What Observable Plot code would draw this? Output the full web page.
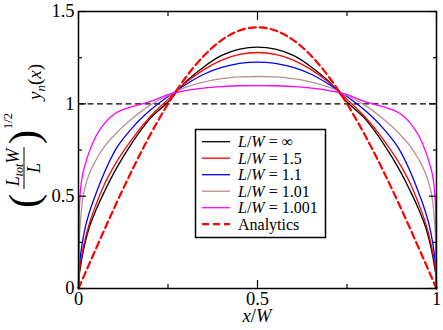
<!DOCTYPE html>
<html><head><meta charset="utf-8">
<script src="https://cdn.jsdelivr.net/npm/d3@7"></script>
<script src="https://cdn.jsdelivr.net/npm/@observablehq/plot@0.6"></script>
<style>body{margin:0;background:#fff} svg{display:block}</style>
</head><body><div id="chart"></div>
<script>
const xGrid = [0, 0.002, 0.005, 0.01, 0.02, 0.03, 0.05, 0.075, 0.1, 0.15, 0.2, 0.25, 0.3, 0.35, 0.4, 0.45, 0.5, 0.55, 0.6, 0.65, 0.7, 0.75, 0.8, 0.85, 0.9, 0.925, 0.95, 0.97, 0.98, 0.99, 0.995, 0.998, 1];
const yInf  = [0, 0.07, 0.11, 0.17, 0.26, 0.33, 0.43, 0.535, 0.63, 0.79, 0.92, 1.01, 1.12, 1.2, 1.262, 1.296, 1.307, 1.296, 1.262, 1.2, 1.12, 1.01, 0.92, 0.79, 0.63, 0.535, 0.43, 0.33, 0.26, 0.17, 0.11, 0.07, 0];
const y15   = [0, 0.08, 0.13, 0.19, 0.28, 0.35, 0.46, 0.575, 0.665, 0.81, 0.93, 1.024, 1.115, 1.185, 1.237, 1.268, 1.278, 1.268, 1.237, 1.185, 1.115, 1.024, 0.93, 0.81, 0.665, 0.575, 0.46, 0.35, 0.28, 0.19, 0.13, 0.08, 0];
const y11   = [0, 0.11, 0.17, 0.24, 0.34, 0.41, 0.52, 0.64, 0.74, 0.87, 0.965, 1.04, 1.105, 1.16, 1.197, 1.219, 1.226, 1.219, 1.197, 1.16, 1.105, 1.04, 0.965, 0.87, 0.74, 0.64, 0.52, 0.41, 0.34, 0.24, 0.17, 0.11, 0];
const y101  = [0, 0.25, 0.35, 0.46, 0.56, 0.62, 0.70, 0.775, 0.83, 0.92, 0.993, 1.045, 1.09, 1.118, 1.136, 1.146, 1.148, 1.146, 1.136, 1.118, 1.09, 1.045, 0.993, 0.92, 0.83, 0.775, 0.70, 0.62, 0.56, 0.46, 0.35, 0.25, 0];
const y1001 = [0, 0.40, 0.52, 0.60, 0.68, 0.74, 0.83, 0.90, 0.945, 0.985, 1.012, 1.05, 1.072, 1.085, 1.093, 1.098, 1.099, 1.098, 1.093, 1.085, 1.072, 1.05, 1.012, 0.985, 0.945, 0.90, 0.83, 0.74, 0.68, 0.60, 0.52, 0.40, 0];
const xAnalytic = [0, 0.05, 0.1, 0.15, 0.2, 0.25, 0.3, 0.35, 0.4, 0.45, 0.5, 0.55, 0.6, 0.65, 0.7, 0.75, 0.8, 0.85, 0.9, 0.95, 1];
const yAnalytic = [0, 0.221, 0.437, 0.642, 0.831, 1.0, 1.144, 1.260, 1.345, 1.397, 1.414, 1.397, 1.345, 1.260, 1.144, 1.0, 0.831, 0.642, 0.437, 0.221, 0];
const seriesNames = ["L/W = ∞", "L/W = 1.5", "L/W = 1.1", "L/W = 1.01", "L/W = 1.001", "Analytics"];
const seriesColors = ["#000000", "#ff0000", "#0000ff", "#bc8f8f", "#ff00ff", "#ff0000"];
const xTicks = [0, 0.5, 1];
const xMinor = [0.25, 0.75];
const yTicks = [0, 0.5, 1, 1.5];
const yMinor = [0.25, 0.75, 1.25];
const refLevel = [1];

const curves = [yInf, y15, y11, y101, y1001];
const rows = curves.flatMap((ys, k) => xGrid.map((x, i) => ({x, y: ys[i], s: seriesNames[k]})));
const analytic = xAnalytic.map((x, i) => ({x, y: yAnalytic[i]}));
const serif = "'Liberation Serif', 'Times New Roman', Times, serif";
const fmt = d => String(d);

const chart = Plot.plot({
  width: 443, height: 330,
  marginLeft: 78, marginRight: 7, marginTop: 11, marginBottom: 42,
  style: {fontFamily: serif, fontSize: "18.5px", color: "#000", background: "#fff"},
  x: {domain: [0, 1]},
  y: {domain: [0, 1.5]},
  color: {domain: seriesNames.slice(0, 5), range: seriesColors.slice(0, 5)},
  marks: [
    Plot.ruleY(refLevel, {stroke: "#000", strokeWidth: 1.3, strokeDasharray: "6,3.5"}),
    Plot.line(rows, {x: "x", y: "y", z: "s", stroke: "s", strokeWidth: 1.3, curve: "monotone-x"}),
    Plot.line(analytic, {x: "x", y: "y", stroke: "#ff0000", strokeWidth: 2.2, strokeDasharray: "7,4", curve: "natural"}),
    Plot.axisX(xTicks, {anchor: "bottom", tickSize: 0, tickPadding: 3, label: null, tickFormat: fmt, fontSize: 18.5, fontFamily: serif}),
    Plot.axisY(yTicks, {anchor: "left", tickSize: 0, tickPadding: 4, label: null, tickFormat: fmt, fontSize: 18.5, fontFamily: serif}),
    Plot.axisX(xTicks, {anchor: "bottom", tickSize: -8, tickFormat: () => "", label: null, strokeWidth: 1.2}),
    Plot.axisX(xMinor, {anchor: "bottom", tickSize: -4, tickFormat: () => "", label: null, strokeWidth: 1.2}),
    Plot.axisX(xTicks, {anchor: "top", tickSize: -8, tickFormat: () => "", label: null, strokeWidth: 1.2}),
    Plot.axisX(xMinor, {anchor: "top", tickSize: -4, tickFormat: () => "", label: null, strokeWidth: 1.2}),
    Plot.axisY(yTicks, {anchor: "left", tickSize: -8, tickFormat: () => "", label: null, strokeWidth: 1.2}),
    Plot.axisY(yMinor, {anchor: "left", tickSize: -4, tickFormat: () => "", label: null, strokeWidth: 1.2}),
    Plot.axisY(yTicks, {anchor: "right", tickSize: -8, tickFormat: () => "", label: null, strokeWidth: 1.2}),
    Plot.axisY(yMinor, {anchor: "right", tickSize: -4, tickFormat: () => "", label: null, strokeWidth: 1.2}),
    Plot.frame({stroke: "#000", strokeWidth: 1.5})
  ]
});
document.getElementById("chart").appendChild(chart);

const svg = d3.select(chart);

// Legend
const lg = svg.append("g").attr("font-family", serif).attr("font-size", 16).attr("text-anchor", "start");
lg.append("rect").attr("x", 195.5).attr("y", 129.5).attr("width", 130).attr("height", 108)
  .attr("fill", "#fff").attr("stroke", "#000").attr("stroke-width", 1.5);
seriesNames.forEach((name, i) => {
  const cy = 141.7 + i * 16.5;
  lg.append("line").attr("x1", 202).attr("x2", 230).attr("y1", cy).attr("y2", cy)
    .attr("stroke", seriesColors[i]).attr("stroke-width", i === 5 ? 2.2 : 1.3)
    .attr("stroke-dasharray", i === 5 ? "7,4" : null);
  const t = lg.append("text").attr("x", 238).attr("y", cy + 5.5).attr("fill", "#000").attr("text-anchor", "start");
  if (name.startsWith("L/W")) {
    t.append("tspan").attr("font-style", "italic").text("L");
    t.append("tspan").text("/");
    t.append("tspan").attr("font-style", "italic").text("W");
    t.append("tspan").text(name.slice(3));
  } else {
    t.text(name);
  }
});

// x label
const xl = svg.append("text").attr("x", 257).attr("y", 322).attr("text-anchor", "middle")
  .attr("font-family", serif).attr("font-size", 18.5).attr("fill", "#000");
xl.append("tspan").attr("font-style", "italic").text("x");
xl.append("tspan").text("/");
xl.append("tspan").attr("font-style", "italic").text("W");

// y label (rotated)
const yl = svg.append("g").attr("transform", "rotate(-90)").attr("font-family", serif).attr("fill", "#000");
yl.append("text").attr("x", -201).attr("y", 37.5).attr("text-anchor", "middle").attr("font-size", 42).text("(");
const num = yl.append("text").attr("x", -167.5).attr("y", 19).attr("text-anchor", "middle").attr("font-size", 18);
num.append("tspan").attr("font-style", "italic").text("L");
num.append("tspan").attr("font-style", "italic").attr("font-size", 12).attr("dy", 4).text("tot");
num.append("tspan").attr("font-style", "italic").attr("dy", -4).text("W");
yl.append("line").attr("x1", -189).attr("x2", -147).attr("y1", 24).attr("y2", 24).attr("stroke", "#000").attr("stroke-width", 1);
yl.append("text").attr("x", -168).attr("y", 40).attr("text-anchor", "middle").attr("font-size", 18).attr("font-style", "italic").text("L");
yl.append("text").attr("x", -137).attr("y", 37.5).attr("text-anchor", "middle").attr("font-size", 42).text(")");
yl.append("text").attr("x", -121).attr("y", 12).attr("text-anchor", "middle").attr("font-size", 12.5).text("1/2");
const yn = yl.append("text").attr("x", -100).attr("y", 41).attr("font-size", 19).attr("text-anchor", "start");
yn.append("tspan").attr("font-style", "italic").text("y");
yn.append("tspan").attr("font-style", "italic").attr("font-size", 13).attr("dy", 4).text("n");
yn.append("tspan").attr("dy", -4).text("(");
yn.append("tspan").attr("font-style", "italic").text("x");
yn.append("tspan").text(")");
</script>
</body></html>
